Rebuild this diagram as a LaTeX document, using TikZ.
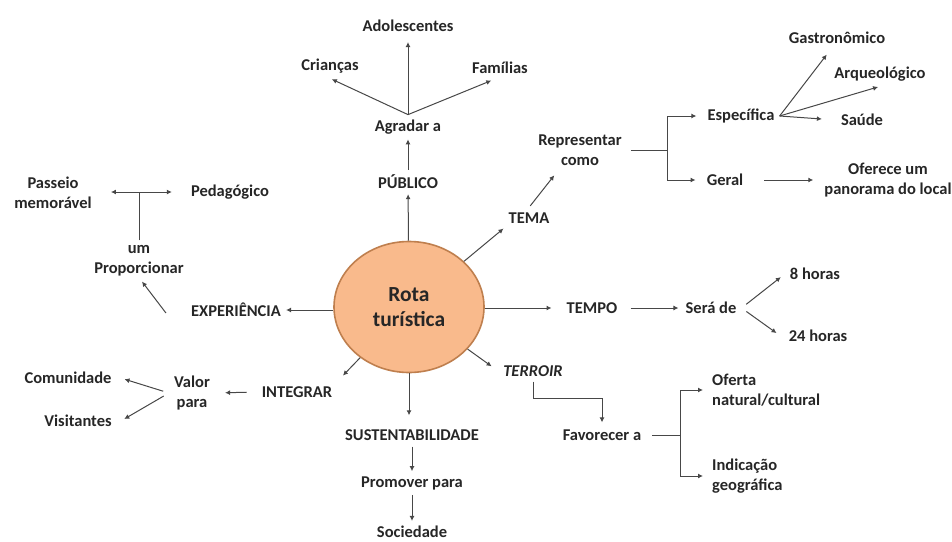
\documentclass[tikz,border=0pt]{standalone}
\usepackage{fontspec}
\setmainfont{Carlito}
\usetikzlibrary{arrows.meta,shapes.geometric,calc}
\definecolor{ink}{HTML}{262626}
\definecolor{wire}{HTML}{474747}
\definecolor{peach}{HTML}{F9BA8C}
\definecolor{rim}{HTML}{BF7F4E}
\begin{document}
\begin{tikzpicture}[x=1pt,y=-1pt,
  lbl/.style={font=\fontsize{16.5}{20}\selectfont\bfseries, text=ink, inner sep=5pt, align=center},
  arr/.style={draw=wire, line width=1pt, -{Latex[length=5pt,width=5pt]}},
  ln/.style={draw=wire, line width=1pt},
  hub/.style={ellipse, draw=rim, line width=1.6pt, fill=peach, minimum width=150pt,
    minimum height=131pt, inner sep=0pt, font=\fontsize{21.5}{25}\selectfont\bfseries,
    text=ink, align=center}
]
\useasboundingbox (0,0) rectangle (952,541);

% central concept
\node[hub] (rota) at (409,307) {Rota\\turística};

% upper branch: audience
\node[lbl] (publico) at (408,182) {PÚBLICO};
\node[lbl] (agradar) at (408,127) {Agradar a};
\node[lbl] (adol) at (408,26) {Adolescentes};
\node[lbl] (criancas) at (330,66) {Crianças};
\node[lbl] (familias) at (500,68) {Famílias};

\draw[arr] (rota) -- (publico);
\draw[arr] (publico) -- (agradar);
\draw[arr, shorten >=5pt] (agradar.north) -- (adol);
\draw[arr, shorten >=2pt] (agradar.north) -- (criancas.south);
\draw[arr, shorten >=4pt] (agradar.north) -- ([xshift=-5pt]familias.south);

% theme branch
\node[lbl] (tema) at (529,218) {TEMA};
\node[lbl] (rep) at (580,150) {Representar\\como};
\node[lbl] (esp) at (741,116) {Específica};
\node[lbl] (geral) at (725,180) {Geral};
\node[lbl] (panorama) at (888,180) {Oferece um\\panorama do local};
\node[lbl] (gastro) at (837,38) {Gastronômico};
\node[lbl] (arqueo) at (880,74) {Arqueológico};
\node[lbl] (saude) at (862,120) {Saúde};
\coordinate (jrep) at (667,150);

\draw[arr] (rota) -- (tema.south west);
\draw[arr, shorten <=2pt, shorten >=6pt] (tema.north) -- ([xshift=-22pt]rep.south);
\draw[ln, shorten <=4pt] (rep.east) -- (jrep);
\draw[arr] (jrep) |- ([xshift=-6pt]esp.west);
\draw[arr] (jrep) |- ([xshift=-6pt]geral.west);
\draw[arr, shorten <=16pt, shorten >=6pt] (geral.east) -- (panorama.west);
\draw[arr, shorten >=7pt] (esp.east) -- ([xshift=-6pt]gastro.south);
\draw[arr, shorten >=2pt] (esp.east) -- (arqueo.south);
\draw[arr, shorten >=14pt] (esp.east) -- (saude.west);

% time branch
\node[lbl] (tempo) at (592,308) {TEMPO};
\node[lbl] (sera) at (711,308) {Será de};
\node[lbl] (h8) at (815,274) {8 horas};
\node[lbl] (h24) at (818,336) {24 horas};

\draw[arr, shorten >=10pt] (rota.east |- tempo.west) -- (tempo.west);
\draw[arr, shorten <=8pt, shorten >=2pt] (tempo.east) -- (sera.west);
\draw[arr, shorten <=6pt, shorten >=5pt] (sera.east) -- (h8.west);
\draw[arr, shorten <=6pt, shorten >=5pt] (sera.east) -- ([xshift=-3pt]h24.west);

% terroir branch
\node[lbl, font=\fontsize{16.5}{20}\selectfont\bfseries\itshape] (terroir) at (533,371) {TERROIR};
\node[lbl] (fav) at (602,435) {Favorecer a};
\node[lbl, align=left, anchor=west] (oferta) at (707,390) {Oferta\\natural/cultural};
\node[lbl, align=left, anchor=west] (indic) at (707,476) {Indicação\\geográfica};
\coordinate (jfav) at (680,435);

\draw[arr, shorten >=8pt] (rota) -- (terroir.west);
\draw[arr, shorten >=2pt] (terroir.south) -- ++(0,17) -| (fav.north);
\draw[ln, shorten <=6pt] (fav.east) -- (jfav);
\draw[arr, shorten >=4pt] (jfav) |- (oferta.west);
\draw[arr, shorten >=4pt] (jfav) |- (indic.west);

% sustainability branch
\node[lbl] (sust) at (412,435) {SUSTENTABILIDADE};
\node[lbl] (promover) at (412,483) {Promover para};
\node[lbl] (sociedade) at (412,532) {Sociedade};

\draw[arr, shorten >=9pt] (rota.south) -- (rota.south |- sust.north);
\draw[arr, shorten <=1pt] (sust) -- (promover);
\draw[arr] (promover) -- (sociedade);

% integration branch
\node[lbl] (integrar) at (297,392) {INTEGRAR};
\node[lbl] (valor) at (192,393) {Valor\\para};
\node[lbl] (comunidade) at (68,378) {Comunidade};
\node[lbl] (visitantes) at (78,421) {Visitantes};

\draw[arr, shorten >=8pt] (rota) -- (integrar.north east);
\draw[arr, shorten <=10pt, shorten >=10pt] (integrar.west) -- (valor.east);
\draw[arr, shorten <=6pt, shorten >=4pt] (valor.west) -- ([xshift=4pt]comunidade.east);
\draw[arr, shorten <=6pt, shorten >=4pt] (valor.west) -- ([xshift=4pt]visitantes.east);

% experience branch
\node[lbl] (exp) at (236,310) {EXPERIÊNCIA};
\node[lbl] (prop) at (139,261) {um\\Proporcionar};
\node[lbl] (pedag) at (230,192) {Pedagógico};
\node[lbl] (passeio) at (53,193) {Passeio\\memorável};
\coordinate (jprop) at (139,192);

\draw[arr] (rota.west |- exp) -- (exp.east);
\draw[arr] ([xshift=-20pt,yshift=-3pt]exp.west) -- ([xshift=3pt]prop.south);
\draw[ln] (prop.north) -- (jprop);
\draw[arr, shorten >=14pt] (jprop) -- (pedag.west);
\draw[arr, shorten >=14pt] (jprop) -- (passeio.east |- jprop);
\end{tikzpicture}
\end{document}
